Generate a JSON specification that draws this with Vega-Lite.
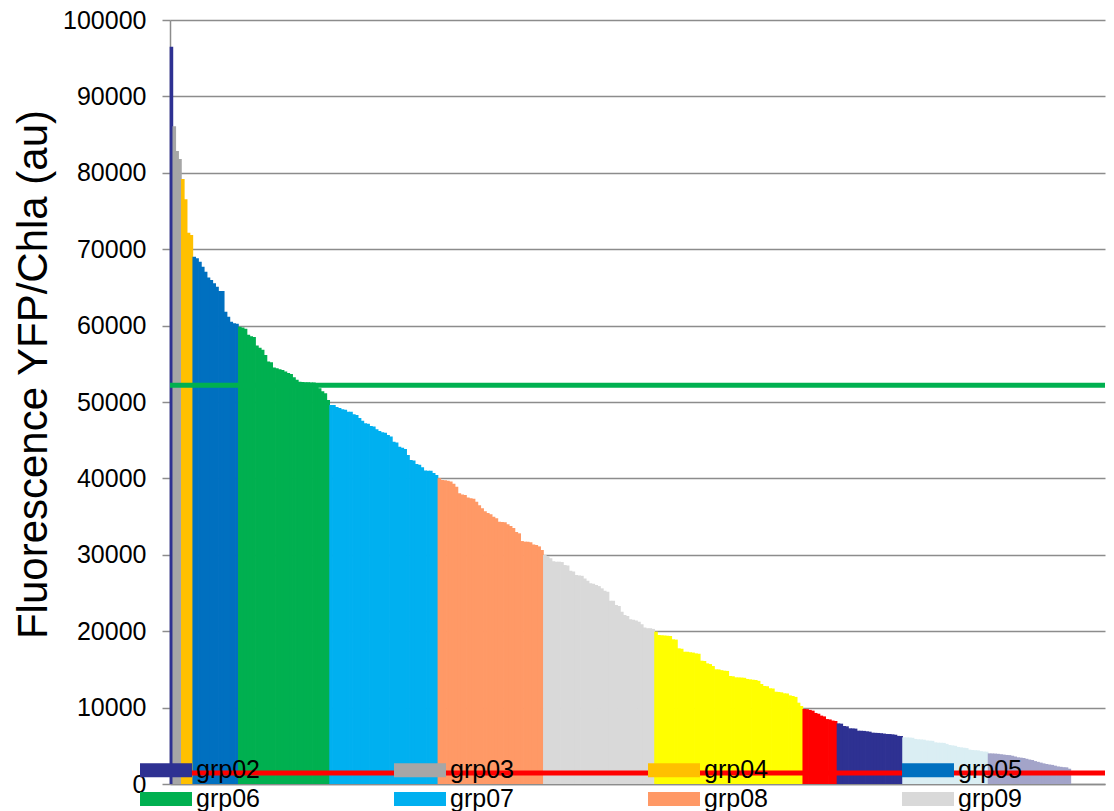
{
"$schema": "https://vega.github.io/schema/vega-lite/v6.json",
"width": 935, "height": 764,
"autosize": "none",
"padding": {"left": 170, "top": 20, "right": 9, "bottom": 27},
"background": "white",
"config": {"view": {"stroke": null}, "font": "Liberation Sans"},
"datasets": {
"bars": [
{"i":1,"g":"grp02","v":96500},
{"i":2,"g":"grp03","v":86100},{"i":3,"g":"grp03","v":82850},{"i":4,"g":"grp03","v":81800},
{"i":5,"g":"grp04","v":79200},{"i":6,"g":"grp04","v":76550},{"i":7,"g":"grp04","v":72150},{"i":8,"g":"grp04","v":71850},
{"i":9,"g":"grp05","v":69020},{"i":10,"g":"grp05","v":68800},{"i":11,"g":"grp05","v":68370},{"i":12,"g":"grp05","v":67710},{"i":13,"g":"grp05","v":67060},{"i":14,"g":"grp05","v":66300},{"i":15,"g":"grp05","v":65970},{"i":16,"g":"grp05","v":65540},{"i":17,"g":"grp05","v":65100},{"i":18,"g":"grp05","v":64530},{"i":19,"g":"grp05","v":64530},{"i":20,"g":"grp05","v":61800},{"i":21,"g":"grp05","v":61150},{"i":22,"g":"grp05","v":60500},{"i":23,"g":"grp05","v":60300},{"i":24,"g":"grp05","v":60250},
{"i":25,"g":"grp06","v":59860},{"i":26,"g":"grp06","v":59750},{"i":27,"g":"grp06","v":59600},{"i":28,"g":"grp06","v":58800},{"i":29,"g":"grp06","v":58600},{"i":30,"g":"grp06","v":58500},{"i":31,"g":"grp06","v":57400},{"i":32,"g":"grp06","v":57100},{"i":33,"g":"grp06","v":56850},{"i":34,"g":"grp06","v":56150},{"i":35,"g":"grp06","v":55300},{"i":36,"g":"grp06","v":55200},{"i":37,"g":"grp06","v":54500},{"i":38,"g":"grp06","v":54420},{"i":39,"g":"grp06","v":54300},{"i":40,"g":"grp06","v":54200},{"i":41,"g":"grp06","v":54000},{"i":42,"g":"grp06","v":53800},{"i":43,"g":"grp06","v":53650},{"i":44,"g":"grp06","v":53250},{"i":45,"g":"grp06","v":52900},{"i":46,"g":"grp06","v":52660},{"i":47,"g":"grp06","v":52620},{"i":48,"g":"grp06","v":52600},{"i":49,"g":"grp06","v":52580},{"i":50,"g":"grp06","v":52560},{"i":51,"g":"grp06","v":52540},{"i":52,"g":"grp06","v":52500},{"i":53,"g":"grp06","v":51800},{"i":54,"g":"grp06","v":51400},{"i":55,"g":"grp06","v":51150},{"i":56,"g":"grp06","v":50260},
{"i":57,"g":"grp07","v":49610},{"i":58,"g":"grp07","v":49610},{"i":59,"g":"grp07","v":49350},{"i":60,"g":"grp07","v":49200},{"i":61,"g":"grp07","v":49040},{"i":62,"g":"grp07","v":49000},{"i":63,"g":"grp07","v":48730},{"i":64,"g":"grp07","v":48730},{"i":65,"g":"grp07","v":48400},{"i":66,"g":"grp07","v":48300},{"i":67,"g":"grp07","v":47900},{"i":68,"g":"grp07","v":47550},{"i":69,"g":"grp07","v":47210},{"i":70,"g":"grp07","v":47150},{"i":71,"g":"grp07","v":46860},{"i":72,"g":"grp07","v":46800},{"i":73,"g":"grp07","v":46420},{"i":74,"g":"grp07","v":46200},{"i":75,"g":"grp07","v":46030},{"i":76,"g":"grp07","v":45980},{"i":77,"g":"grp07","v":45680},{"i":78,"g":"grp07","v":45500},{"i":79,"g":"grp07","v":44800},{"i":80,"g":"grp07","v":44700},{"i":81,"g":"grp07","v":44150},{"i":82,"g":"grp07","v":44000},{"i":83,"g":"grp07","v":43850},{"i":84,"g":"grp07","v":43060},{"i":85,"g":"grp07","v":42410},{"i":86,"g":"grp07","v":42350},{"i":87,"g":"grp07","v":41890},{"i":88,"g":"grp07","v":41800},{"i":89,"g":"grp07","v":41450},{"i":90,"g":"grp07","v":41050},{"i":91,"g":"grp07","v":41010},{"i":92,"g":"grp07","v":41000},{"i":93,"g":"grp07","v":40700},{"i":94,"g":"grp07","v":40450},
{"i":95,"g":"grp08","v":40010},{"i":96,"g":"grp08","v":39790},{"i":97,"g":"grp08","v":39750},{"i":98,"g":"grp08","v":39700},{"i":99,"g":"grp08","v":39600},{"i":100,"g":"grp08","v":39300},{"i":101,"g":"grp08","v":38910},{"i":102,"g":"grp08","v":38040},{"i":103,"g":"grp08","v":37900},{"i":104,"g":"grp08","v":37830},{"i":105,"g":"grp08","v":37500},{"i":106,"g":"grp08","v":37390},{"i":107,"g":"grp08","v":37350},{"i":108,"g":"grp08","v":36950},{"i":109,"g":"grp08","v":36500},{"i":110,"g":"grp08","v":36080},{"i":111,"g":"grp08","v":35700},{"i":112,"g":"grp08","v":35470},{"i":113,"g":"grp08","v":35300},{"i":114,"g":"grp08","v":34990},{"i":115,"g":"grp08","v":34800},{"i":116,"g":"grp08","v":34330},{"i":117,"g":"grp08","v":34300},{"i":118,"g":"grp08","v":34250},{"i":119,"g":"grp08","v":34000},{"i":120,"g":"grp08","v":33770},{"i":121,"g":"grp08","v":33500},{"i":122,"g":"grp08","v":33000},{"i":123,"g":"grp08","v":32810},{"i":124,"g":"grp08","v":31800},{"i":125,"g":"grp08","v":31720},{"i":126,"g":"grp08","v":31700},{"i":127,"g":"grp08","v":31650},{"i":128,"g":"grp08","v":31350},{"i":129,"g":"grp08","v":31280},{"i":130,"g":"grp08","v":31100},{"i":131,"g":"grp08","v":30630},
{"i":132,"g":"grp09","v":29970},{"i":133,"g":"grp09","v":29800},{"i":134,"g":"grp09","v":29540},{"i":135,"g":"grp09","v":29150},{"i":136,"g":"grp09","v":29100},{"i":137,"g":"grp09","v":29100},{"i":138,"g":"grp09","v":29050},{"i":139,"g":"grp09","v":28660},{"i":140,"g":"grp09","v":28600},{"i":141,"g":"grp09","v":27920},{"i":142,"g":"grp09","v":27800},{"i":143,"g":"grp09","v":27360},{"i":144,"g":"grp09","v":27300},{"i":145,"g":"grp09","v":27250},{"i":146,"g":"grp09","v":26900},{"i":147,"g":"grp09","v":26610},{"i":148,"g":"grp09","v":26270},{"i":149,"g":"grp09","v":26200},{"i":150,"g":"grp09","v":26050},{"i":151,"g":"grp09","v":25900},{"i":152,"g":"grp09","v":25610},{"i":153,"g":"grp09","v":25300},{"i":154,"g":"grp09","v":25170},{"i":155,"g":"grp09","v":24000},{"i":156,"g":"grp09","v":23990},{"i":157,"g":"grp09","v":23430},{"i":158,"g":"grp09","v":23300},{"i":159,"g":"grp09","v":22550},{"i":160,"g":"grp09","v":22120},{"i":161,"g":"grp09","v":22000},{"i":162,"g":"grp09","v":21550},{"i":163,"g":"grp09","v":21500},{"i":164,"g":"grp09","v":21400},{"i":165,"g":"grp09","v":21240},{"i":166,"g":"grp09","v":20900},{"i":167,"g":"grp09","v":20500},{"i":168,"g":"grp09","v":20400},{"i":169,"g":"grp09","v":20380},{"i":170,"g":"grp09","v":20300},
{"i":171,"g":"grp10","v":19940},{"i":172,"g":"grp10","v":19500},{"i":173,"g":"grp10","v":19480},{"i":174,"g":"grp10","v":19450},{"i":175,"g":"grp10","v":19400},{"i":176,"g":"grp10","v":19370},{"i":177,"g":"grp10","v":18940},{"i":178,"g":"grp10","v":18900},{"i":179,"g":"grp10","v":17760},{"i":180,"g":"grp10","v":17700},{"i":181,"g":"grp10","v":17320},{"i":182,"g":"grp10","v":17300},{"i":183,"g":"grp10","v":17250},{"i":184,"g":"grp10","v":17200},{"i":185,"g":"grp10","v":17100},{"i":186,"g":"grp10","v":17050},{"i":187,"g":"grp10","v":16140},{"i":188,"g":"grp10","v":16100},{"i":189,"g":"grp10","v":15790},{"i":190,"g":"grp10","v":15700},{"i":191,"g":"grp10","v":15440},{"i":192,"g":"grp10","v":15010},{"i":193,"g":"grp10","v":15000},{"i":194,"g":"grp10","v":14900},{"i":195,"g":"grp10","v":14830},{"i":196,"g":"grp10","v":14800},{"i":197,"g":"grp10","v":14140},{"i":198,"g":"grp10","v":14100},{"i":199,"g":"grp10","v":13960},{"i":200,"g":"grp10","v":13950},{"i":201,"g":"grp10","v":13930},{"i":202,"g":"grp10","v":13900},{"i":203,"g":"grp10","v":13750},{"i":204,"g":"grp10","v":13700},{"i":205,"g":"grp10","v":13650},{"i":206,"g":"grp10","v":13610},{"i":207,"g":"grp10","v":13500},{"i":208,"g":"grp10","v":13090},{"i":209,"g":"grp10","v":12830},{"i":210,"g":"grp10","v":12800},{"i":211,"g":"grp10","v":12530},{"i":212,"g":"grp10","v":12500},{"i":213,"g":"grp10","v":12080},{"i":214,"g":"grp10","v":12050},{"i":215,"g":"grp10","v":12000},{"i":216,"g":"grp10","v":11870},{"i":217,"g":"grp10","v":11850},{"i":218,"g":"grp10","v":11600},{"i":219,"g":"grp10","v":11520},{"i":220,"g":"grp10","v":11400},{"i":221,"g":"grp10","v":10640},{"i":222,"g":"grp10","v":10210},
{"i":223,"g":"grp11","v":9820},{"i":224,"g":"grp11","v":9800},{"i":225,"g":"grp11","v":9700},{"i":226,"g":"grp11","v":9600},{"i":227,"g":"grp11","v":9300},{"i":228,"g":"grp11","v":9200},{"i":229,"g":"grp11","v":8950},{"i":230,"g":"grp11","v":8850},{"i":231,"g":"grp11","v":8500},{"i":232,"g":"grp11","v":8450},{"i":233,"g":"grp11","v":8300},{"i":234,"g":"grp11","v":8250},
{"i":235,"g":"grp12","v":7940},{"i":236,"g":"grp12","v":7900},{"i":237,"g":"grp12","v":7590},{"i":238,"g":"grp12","v":7550},{"i":239,"g":"grp12","v":7290},{"i":240,"g":"grp12","v":7280},{"i":241,"g":"grp12","v":7250},{"i":242,"g":"grp12","v":6980},{"i":243,"g":"grp12","v":6970},{"i":244,"g":"grp12","v":6950},{"i":245,"g":"grp12","v":6900},{"i":246,"g":"grp12","v":6850},{"i":247,"g":"grp12","v":6720},{"i":248,"g":"grp12","v":6700},{"i":249,"g":"grp12","v":6680},{"i":250,"g":"grp12","v":6650},{"i":251,"g":"grp12","v":6600},{"i":252,"g":"grp12","v":6550},{"i":253,"g":"grp12","v":6540},{"i":254,"g":"grp12","v":6500},{"i":255,"g":"grp12","v":6450},{"i":256,"g":"grp12","v":6300},{"i":257,"g":"grp12","v":6280},
{"i":258,"g":"grp13","v":6110},{"i":259,"g":"grp13","v":6100},{"i":260,"g":"grp13","v":6080},{"i":261,"g":"grp13","v":6050},{"i":262,"g":"grp13","v":5900},{"i":263,"g":"grp13","v":5850},{"i":264,"g":"grp13","v":5830},{"i":265,"g":"grp13","v":5800},{"i":266,"g":"grp13","v":5700},{"i":267,"g":"grp13","v":5670},{"i":268,"g":"grp13","v":5650},{"i":269,"g":"grp13","v":5450},{"i":270,"g":"grp13","v":5410},{"i":271,"g":"grp13","v":5400},{"i":272,"g":"grp13","v":5380},{"i":273,"g":"grp13","v":5250},{"i":274,"g":"grp13","v":5100},{"i":275,"g":"grp13","v":5050},{"i":276,"g":"grp13","v":5000},{"i":277,"g":"grp13","v":4850},{"i":278,"g":"grp13","v":4800},{"i":279,"g":"grp13","v":4750},{"i":280,"g":"grp13","v":4700},{"i":281,"g":"grp13","v":4500},{"i":282,"g":"grp13","v":4450},{"i":283,"g":"grp13","v":4420},{"i":284,"g":"grp13","v":4400},{"i":285,"g":"grp13","v":4300},{"i":286,"g":"grp13","v":4250},{"i":287,"g":"grp13","v":4230},
{"i":288,"g":"grp14","v":4010},{"i":289,"g":"grp14","v":4000},{"i":290,"g":"grp14","v":3980},{"i":291,"g":"grp14","v":3950},{"i":292,"g":"grp14","v":3900},{"i":293,"g":"grp14","v":3850},{"i":294,"g":"grp14","v":3800},{"i":295,"g":"grp14","v":3780},{"i":296,"g":"grp14","v":3700},{"i":297,"g":"grp14","v":3600},{"i":298,"g":"grp14","v":3490},{"i":299,"g":"grp14","v":3450},{"i":300,"g":"grp14","v":3400},{"i":301,"g":"grp14","v":3300},{"i":302,"g":"grp14","v":3200},{"i":303,"g":"grp14","v":3140},{"i":304,"g":"grp14","v":3000},{"i":305,"g":"grp14","v":2900},{"i":306,"g":"grp14","v":2800},{"i":307,"g":"grp14","v":2700},{"i":308,"g":"grp14","v":2620},{"i":309,"g":"grp14","v":2550},{"i":310,"g":"grp14","v":2500},{"i":311,"g":"grp14","v":2400},{"i":312,"g":"grp14","v":2300},{"i":313,"g":"grp14","v":2250},{"i":314,"g":"grp14","v":2200},{"i":315,"g":"grp14","v":2180},{"i":316,"g":"grp14","v":2000}
],
"refs": [{"name":"green","v":52200},{"name":"red","v":1450}]
},
"layer": [
{
"data": {"name": "bars"},
"mark": {"type": "bar", "orient": "vertical", "width": 3.6, "opacity": 1, "fillOpacity": 1},
"encoding": {
"x": {"field": "i", "type": "quantitative",
 "scale": {"domain": [0.5, 328.5], "nice": false, "zero": false, "padding": 0},
 "axis": {"labels": false, "ticks": false, "grid": false, "title": null, "domainColor": "#8c8c8c", "domainWidth": 1.5}},
"y": {"field": "v", "type": "quantitative",
 "scale": {"domain": [0, 100000], "nice": false},
 "axis": {"values": [0,10000,20000,30000,40000,50000,60000,70000,80000,90000,100000], "format": "d",
  "labelFont": "Liberation Sans", "labelFontSize": 25, "labelColor": "#000000", "labelPadding": 16,
  "tickSize": 8, "tickColor": "#8c8c8c", "tickWidth": 1.5,
  "domainColor": "#8c8c8c", "domainWidth": 1.5,
  "grid": true, "gridColor": "#8c8c8c", "gridWidth": 1.5, "gridOpacity": 1,
  "title": "Fluorescence YFP/Chla (au)", "titleFont": "Liberation Sans", "titleFontSize": 42, "titleFontWeight": "normal", "titleColor": "#000000",
  "titleAngle": -90, "titleX": -124, "titleY": 354, "titleAlign": "center", "titleBaseline": "alphabetic"}},
"color": {"field": "g", "type": "nominal",
 "scale": {"domain": ["grp02","grp03","grp04","grp05","grp06","grp07","grp08","grp09","grp10","grp11","grp12","grp13","grp14"],
  "range": ["#2E3192","#A6A6A6","#FFC000","#0070C0","#00B050","#00B0F0","#FF9966","#D9D9D9","#FFFF00","#FF0000","#2E3192","#DAEEF3","#A3A4C9"]},
 "legend": {"orient": "none", "legendX": -19.5, "legendY": 734.5, "direction": "horizontal", "columns": 4,
  "values": ["grp02","grp03","grp04","grp05","grp06","grp07","grp08","grp09"],
  "title": null, "symbolType": "M-1.677,-0.452H1.677V0.452H-1.677Z", "symbolSize": 961, "symbolStrokeWidth": 0, "symbolOpacity": 1,
  "labelFont": "Liberation Sans", "labelFontSize": 25, "labelColor": "#000000", "labelOffset": 14.5,
  "columnPadding": 133, "rowPadding": 0, "padding": 0}}
}
},
{
"data": {"name": "refs"},
"transform": [{"filter": "datum.name === 'green'"}],
"mark": {"type": "rule", "color": "#00B050", "strokeWidth": 5},
"encoding": {"y": {"field": "v", "type": "quantitative"}}
},
{
"data": {"name": "refs"},
"transform": [{"filter": "datum.name === 'red'"}],
"mark": {"type": "rule", "color": "#FF0000", "strokeWidth": 5},
"encoding": {"y": {"field": "v", "type": "quantitative"}}
}
]
}
